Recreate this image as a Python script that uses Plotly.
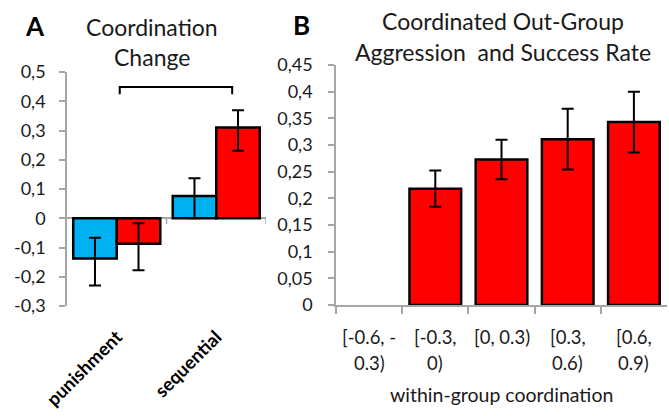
import plotly.graph_objects as go

W, H = 669, 416

# ---------------- data ----------------
conditions = ["punishment", "sequential"]
blue_vals = [-0.138, 0.076]
blue_err_up = [0.071, 0.061]
blue_err_down = [0.092, 0.076]
red_vals = [-0.087, 0.310]
red_err_up = [0.070, 0.059]
red_err_down = [0.091, 0.079]

a_yticks = [-0.3, -0.2, -0.1, 0, 0.1, 0.2, 0.3, 0.4, 0.5]
a_yticktext = ["-0,3", "-0,2", "-0,1", "0", "0,1", "0,2", "0,3", "0,4", "0,5"]

bins = ["[-0.6, -\n0.3)", "[-0.3,\n0)", "[0, 0.3)", "[0.3,\n0.6)", "[0.6,\n0.9)"]
b_vals = [None, 0.218, 0.273, 0.311, 0.343]
b_err = [None, 0.034, 0.037, 0.057, 0.057]
b_yticks = [0, 0.05, 0.1, 0.15, 0.2, 0.25, 0.3, 0.35, 0.4, 0.45]
b_yticktext = ["0", "0,05", "0,1", "0,15", "0,2", "0,25", "0,3", "0,35", "0,4", "0,45"]

title_a = ["Coordination", "Change"]
title_b = ["Coordinated Out-Group", "Aggression\u00a0 and Success Rate"]
xtitle_b = "within-group coordination"

# ---------------- helpers ----------------
def px(x):
    return x / W

def py(y):
    return 1 - y / H

FONT = "Lato"
GRAY = "#a6a6a6"
TXT = "#1a1a1a"

fig = go.Figure()

# Panel A bars
fig.add_trace(go.Bar(
    x=conditions, y=blue_vals, xaxis="x", yaxis="y",
    marker=dict(color="#00b0f0", line=dict(color="black", width=2.5)),
    offset=-0.4375, width=0.4375,
    error_y=dict(type="data", array=blue_err_up, arrayminus=blue_err_down,
                 symmetric=False, color="black", thickness=2, width=6),
    showlegend=False,
))
fig.add_trace(go.Bar(
    x=conditions, y=red_vals, xaxis="x", yaxis="y",
    marker=dict(color="#ff0000", line=dict(color="black", width=2.5)),
    offset=0.0, width=0.4375,
    error_y=dict(type="data", array=red_err_up, arrayminus=red_err_down,
                 symmetric=False, color="black", thickness=2, width=6),
    showlegend=False,
))

# Panel B bars
fig.add_trace(go.Bar(
    x=bins, y=b_vals, xaxis="x2", yaxis="y2",
    marker=dict(color="#ff0000", line=dict(color="black", width=2.5)),
    error_y=dict(type="data", array=b_err, color="black", thickness=2, width=6),
    showlegend=False,
))

fig.update_layout(
    width=W, height=H,
    margin=dict(l=0, r=0, t=0, b=0, autoexpand=False),
    paper_bgcolor="white", plot_bgcolor="white",
    font=dict(family=FONT, color=TXT, size=16),
    barmode="group", bargap=0.22,
    xaxis=dict(
        domain=[px(67), px(266)], anchor="y", automargin=False,
        type="category", categoryarray=conditions, range=[-0.5, 1.5],
        showline=False, showgrid=False, zeroline=False,
        ticks="outside", ticklen=12, tickcolor="rgba(0,0,0,0)",
        tickangle=-45,
        tickfont=dict(family=FONT, size=18.5, color="black", weight="bold"),
    ),
    yaxis=dict(
        domain=[py(306), py(72)], anchor="x", automargin=False,
        range=[-0.3, 0.5],
        tickvals=a_yticks, ticktext=a_yticktext,
        showline=True, linecolor=GRAY, linewidth=1.5,
        ticks="outside", ticklen=6, tickcolor=GRAY, tickwidth=1.5,
        ticklabelstandoff=10,
        showgrid=False,
        zeroline=True, zerolinecolor=GRAY, zerolinewidth=1.5,
        tickfont=dict(family=FONT, size=18, color=TXT),
    ),
    xaxis2=dict(
        domain=[px(336), px(667)], anchor="y2", automargin=False,
        type="category", categoryarray=bins, range=[-0.5, 4.5],
        showline=True, linecolor=GRAY, linewidth=1.5,
        ticks="outside", tickson="boundaries", ticklen=7,
        tickcolor=GRAY, tickwidth=1.5,
        showticklabels=False, showgrid=False, zeroline=False,
    ),
    yaxis2=dict(
        domain=[py(305), py(65)], anchor="x2", automargin=False,
        range=[0, 0.45],
        tickvals=b_yticks, ticktext=b_yticktext,
        showline=True, linecolor=GRAY, linewidth=1.5,
        ticks="outside", ticklen=6, tickcolor=GRAY, tickwidth=1.5,
        ticklabelstandoff=12,
        showgrid=False, zeroline=False,
        tickfont=dict(family=FONT, size=18, color=TXT),
    ),
)

# boundary ticks on the zero line of panel A
shapes = []
for xb in [0.5, 1.5]:
    shapes.append(dict(type="line", xref="x", yref="y", x0=xb, x1=xb,
                       y0=0, y1=-0.02, line=dict(color=GRAY, width=1.5)))
# significance bracket
shapes.append(dict(type="path", xref="x", yref="y",
                   path="M 0.03 0.424 L 0.03 0.449 L 1.16 0.449 L 1.16 0.424",
                   line=dict(color="black", width=2)))
fig.update_layout(shapes=shapes)

def note(text, x, y, size, color=TXT, xref="paper"):
    return dict(text=text, x=x, y=y, xref=xref, yref="paper",
                xanchor="center", yanchor="middle", showarrow=False,
                font=dict(family=FONT, size=size, color=color))

ann = []
ann.append(note("<b>A</b>", px(35), py(26), 26, "black"))
ann.append(note("<b>B</b>", px(301), py(25), 26, "black"))
for i, line in enumerate(title_a):
    ann.append(note(line, px(152), py(27 + 30 * i), 23))
for i, line in enumerate(title_b):
    ann.append(note(line, px(503), py(21 + 31 * i), 23))
for cat in bins:
    for j, line in enumerate(cat.split("\n")):
        ann.append(note(line, cat, py(337 + 26 * j), 18.5, xref="x2"))
ann.append(note(xtitle_b, px(501), py(394), 19.5))
fig.update_layout(annotations=ann)

fig.write_html("out.html")
